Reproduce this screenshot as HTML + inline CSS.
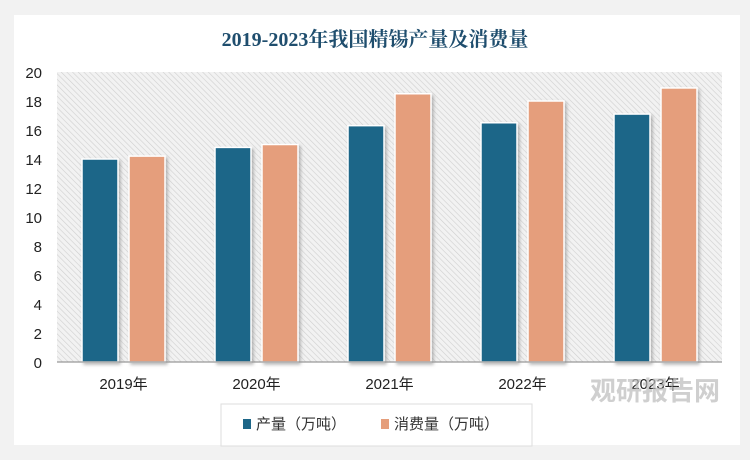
<!DOCTYPE html>
<html><head><meta charset="utf-8"><style>
body{margin:0;background:#f2f2f2;width:750px;height:455px;overflow:hidden;font-family:"Liberation Sans","Noto Sans CJK SC",sans-serif}
</style></head><body>
<svg width="750" height="455" xmlns="http://www.w3.org/2000/svg">
<defs>
<pattern id="hatch" width="4" height="4" patternUnits="userSpaceOnUse" patternTransform="rotate(-45)">
<rect width="4" height="4" fill="#f2f2f2"/><line x1="0" y1="0" x2="0" y2="4" stroke="#cfcfcf" stroke-width="1.2"/>
</pattern>
<filter id="sh" x="-20%" y="-20%" width="140%" height="140%"><feDropShadow dx="2" dy="2" stdDeviation="1.5" flood-color="#888" flood-opacity="0.6"/></filter>
</defs>
<rect x="14" y="15" width="726" height="430" fill="#fff"/>
<text x="375" y="46" text-anchor="middle" font-family="'Liberation Serif','Noto Serif CJK SC',serif" font-weight="bold" font-size="20" fill="#1f4e6e">2019-2023年我国精锡产量及消费量</text>
<rect x="57" y="72" width="665" height="290" fill="url(#hatch)"/>
<g id="yaxis"></g><g id="bars"></g><g id="xaxis"></g>
<line x1="57" y1="362" x2="722" y2="362" stroke="#999" stroke-width="1.2"/>
<rect x="221" y="404" width="311" height="42" fill="#fff" stroke="#ddd"/>
<g><rect x="243" y="419" width="8" height="10" fill="#1d6688"/><text x="256" y="429" font-size="15" fill="#333">产量（万吨）</text></g>
<g><rect x="381" y="419" width="8" height="10" fill="#e59e7b"/><text x="394" y="429" font-size="15" fill="#333">消费量（万吨）</text></g>
<text x="590" y="400" font-size="26" font-weight="bold" fill="#bbb" opacity="0.7">观研报告网</text>
</svg>
<script>
const categories=["2019年","2020年","2021年","2022年","2023年"];
const production=[14.0,14.8,16.3,16.5,17.1];
const consumption=[14.2,15.0,18.5,18.0,18.9];
const yTicks=[0,2,4,6,8,10,12,14,16,18,20];
const NS="http://www.w3.org/2000/svg";
const x0=57,x1=722,yTop=72,yBot=362,yMax=20;
const y=v=>yBot-(v/yMax)*(yBot-yTop);
const gw=(x1-x0)/categories.length;
const bw=36;
function mk(t,a,p){const e=document.createElementNS(NS,t);for(const k in a)e.setAttribute(k,a[k]);p.appendChild(e);return e;}
const ya=document.getElementById('yaxis');
yTicks.forEach(v=>{const t=mk('text',{x:42,y:y(v)+6,'text-anchor':'end','font-size':15,fill:'#222'},ya);t.textContent=v;

});
const bg=document.getElementById('bars'),xa=document.getElementById('xaxis');
categories.forEach((c,i)=>{const cx=x0+gw*(i+0.5);
const b1=mk('rect',{x:cx-bw-5.5,y:y(production[i]),width:bw,height:yBot-y(production[i]),fill:'#1d6688',stroke:'#fff','stroke-width':1.5,filter:'url(#sh)'},bg);


const b2=mk('rect',{x:cx+5.5,y:y(consumption[i]),width:bw,height:yBot-y(consumption[i]),fill:'#e59e7b',stroke:'#fff','stroke-width':1.5,filter:'url(#sh)'},bg);


const t=mk('text',{x:cx,y:389,'text-anchor':'middle','font-size':15,fill:'#222'},xa);t.textContent=c;

});
</script>
</body></html>
